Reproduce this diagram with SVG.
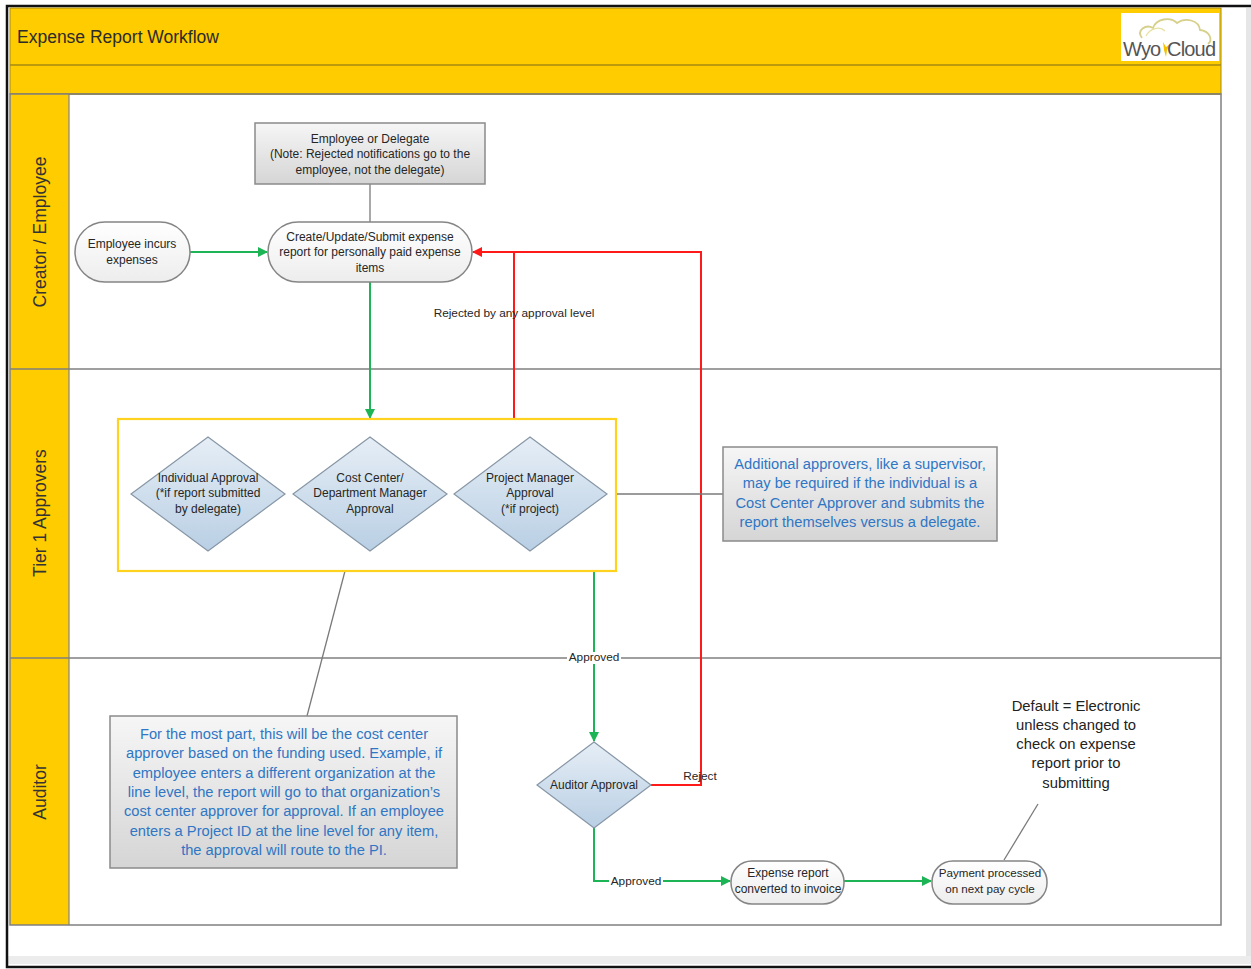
<svg xmlns="http://www.w3.org/2000/svg" width="1251" height="969" viewBox="0 0 1251 969">
<defs>
<linearGradient id="gGray" x1="0" y1="0" x2="0" y2="1"><stop offset="0" stop-color="#f6f6f6"/><stop offset="1" stop-color="#d5d5d5"/></linearGradient>
<linearGradient id="gBlue" x1="0" y1="0" x2="0" y2="1"><stop offset="0" stop-color="#e6eef6"/><stop offset="1" stop-color="#b9cfe4"/></linearGradient>
<linearGradient id="gTerm" x1="0" y1="0" x2="0" y2="1"><stop offset="0" stop-color="#ffffff"/><stop offset="1" stop-color="#ededed"/></linearGradient>
<marker id="aG" markerWidth="10" markerHeight="10" refX="9" refY="5" orient="auto" markerUnits="userSpaceOnUse"><path d="M0,0 L10,5 L0,10 Z" fill="#1db455"/></marker>
<marker id="aR" markerWidth="10" markerHeight="10" refX="9" refY="5" orient="auto" markerUnits="userSpaceOnUse"><path d="M0,0 L10,5 L0,10 Z" fill="#ff1a1a"/></marker>
<style>
.t{font-family:"Liberation Sans",Arial,sans-serif;fill:#262626;text-anchor:middle}
.s{font-size:12px}
.blue{font-size:14.7px;fill:#2f76c4}
.lane{font-size:17.5px;fill:#333}
.lbl{font-size:11.8px}
.dft{font-size:14.8px;fill:#222}
.note{fill:url(#gGray);stroke:#8a8a8a;stroke-width:1.5}
.dia{fill:url(#gBlue);stroke:#8796a6;stroke-width:1.2}
.term{fill:url(#gTerm);stroke:#858585;stroke-width:1.5}
.g{fill:none;stroke:#1db455;stroke-width:2}
.r{fill:none;stroke:#ff1a1a;stroke-width:2}
.k{fill:none;stroke:#7a7a7a;stroke-width:1.3}
.sep{stroke:#7f7f7f;stroke-width:1.5}
</style>
</defs>
<rect width="1251" height="969" fill="#ffffff"/>
<g id="page">
<rect x="1246" y="8" width="5" height="952" fill="#e6e6e6"/>
<rect x="8" y="956" width="1243" height="8" fill="#ececec"/>
<path d="M1251,6 H7 V967 H1251" fill="none" stroke="#111" stroke-width="2.5"/>
</g>
<g id="header">
<rect x="10" y="8" width="1211" height="86" fill="#ffcc00"/>
<line x1="10" y1="65" x2="1221" y2="65" stroke="#a58a10" stroke-width="1.5"/>
<line x1="10" y1="94" x2="1221" y2="94" stroke="#a58a10" stroke-width="1.5"/>
<rect x="10" y="8" width="1211" height="86" fill="none" stroke="#a58a10" stroke-width="1"/>
<text class="t" x="17" y="43" style="font-size:17.5px;text-anchor:start;fill:#2b2b2b">Expense Report Workflow</text>
</g>
<g id="logo">
<rect x="1121" y="13" width="98" height="48" fill="#ffffff"/>
<path d="M1142,38 C1136,30 1146,24 1153,28 C1156,19 1170,16 1177,23 C1185,17 1199,20 1200,30 C1210,31 1213,40 1208,44" fill="none" stroke="#d6d08a" stroke-width="1.8"/>
<path d="M1146,36 C1150,28 1160,26 1165,31" fill="none" stroke="#e8e0a0" stroke-width="1.2"/>
<text x="1123" y="56" style="font-family:'Liberation Sans',Arial,sans-serif;font-size:20px;fill:#555;letter-spacing:-0.8px">Wyo</text>
<path d="M1163,42 L1166,47 L1170,44 L1167,50 L1166,57 L1164,50 Z" fill="#f2c200"/>
<text x="1167" y="56" style="font-family:'Liberation Sans',Arial,sans-serif;font-size:20px;fill:#555;letter-spacing:-0.8px">Cloud</text>
</g>
<g id="pool">
<rect x="10" y="94" width="59" height="831" fill="#ffcc00"/>
<rect x="10" y="94" width="1211" height="831" fill="none" stroke="#808080" stroke-width="1.5"/>
<line x1="69" y1="94" x2="69" y2="925" stroke="#808080" stroke-width="1.2"/>
<line class="sep" x1="10" y1="369" x2="1221" y2="369"/>
<line class="sep" x1="10" y1="658" x2="1221" y2="658"/>
<text class="t lane" transform="translate(46,232) rotate(-90)">Creator / Employee</text>
<text class="t lane" transform="translate(46,513) rotate(-90)">Tier 1 Approvers</text>
<text class="t lane" transform="translate(46,792) rotate(-90)">Auditor</text>
</g>
<g id="connectors">
<line class="k" x1="370" y1="184" x2="370" y2="222"/>
<line class="g" x1="190" y1="252" x2="267" y2="252" marker-end="url(#aG)"/>
<line class="g" x1="370" y1="282" x2="370" y2="418" marker-end="url(#aG)"/>
<path class="r" d="M651,785 H701 V252 H473" marker-end="url(#aR)"/>
<line class="r" x1="514" y1="419" x2="514" y2="252"/>
<line class="k" x1="616" y1="494" x2="723" y2="494"/>
<line class="k" x1="345" y1="571" x2="307" y2="716"/>
<line class="g" x1="594" y1="571" x2="594" y2="741" marker-end="url(#aG)"/>
<path class="g" d="M594,828 V881 H730" marker-end="url(#aG)"/>
<line class="g" x1="844" y1="881" x2="931" y2="881" marker-end="url(#aG)"/>
<line class="k" x1="1004" y1="860" x2="1038" y2="804"/>
<text class="t lbl" x="514" y="317">Rejected by any approval level</text>
<rect x="567" y="652" width="54" height="12" fill="#ffffff"/>
<text class="t lbl" x="594" y="661">Approved</text>
<text class="t lbl" x="700" y="780">Reject</text>
<rect x="609" y="875" width="54" height="12" fill="#ffffff"/>
<text class="t lbl" x="636" y="885">Approved</text>
</g>
<g id="n-delegate">
<rect class="note" x="255" y="123" width="230" height="61"/>
<text class="t s" x="370" y="143">Employee or Delegate</text>
<text class="t s" x="370" y="158">(Note: Rejected notifications go to the</text>
<text class="t s" x="370" y="174">employee, not the delegate)</text>
</g>
<g id="n-incurs">
<rect class="term" x="75" y="222" width="115" height="60" rx="30"/>
<text class="t s" x="132" y="248">Employee incurs</text>
<text class="t s" x="132" y="264">expenses</text>
</g>
<g id="n-create">
<rect class="term" x="268" y="222" width="204" height="60" rx="30"/>
<text class="t s" x="370" y="241">Create/Update/Submit expense</text>
<text class="t s" x="370" y="256">report for personally paid expense</text>
<text class="t s" x="370" y="272">items</text>
</g>
<g id="n-tier1">
<rect x="118" y="419" width="498" height="152" fill="#ffffff" stroke="#ffd21f" stroke-width="2.2"/>
</g>
<g id="n-individual">
<path class="dia" d="M208,437 L285,494 L208,551 L131,494 Z"/>
<text class="t s" x="208" y="482">Individual Approval</text>
<text class="t s" x="208" y="497">(*if report submitted</text>
<text class="t s" x="208" y="513">by delegate)</text>
</g>
<g id="n-costcenter">
<path class="dia" d="M370,437 L447,494 L370,551 L293,494 Z"/>
<text class="t s" x="370" y="482">Cost Center/</text>
<text class="t s" x="370" y="497">Department Manager</text>
<text class="t s" x="370" y="513">Approval</text>
</g>
<g id="n-project">
<path class="dia" d="M530,437 L607,494 L530,551 L454,494 Z"/>
<text class="t s" x="530" y="482">Project Manager</text>
<text class="t s" x="530" y="497">Approval</text>
<text class="t s" x="530" y="513">(*if project)</text>
</g>
<g id="n-additional">
<rect class="note" x="723" y="447" width="274" height="94"/>
<text class="t blue" x="860" y="469">Additional approvers, like a supervisor,</text>
<text class="t blue" x="860" y="488">may be required if the individual is a</text>
<text class="t blue" x="860" y="508">Cost Center Approver and submits the</text>
<text class="t blue" x="860" y="527">report themselves versus a delegate.</text>
</g>
<g id="n-mostpart">
<rect class="note" x="110" y="716" width="347" height="152"/>
<text class="t blue" x="284" y="739">For the most part, this will be the cost center</text>
<text class="t blue" x="284" y="758">approver based on the funding used. Example, if</text>
<text class="t blue" x="284" y="778">employee enters a different organization at the</text>
<text class="t blue" x="284" y="797">line level, the report will go to that organization’s</text>
<text class="t blue" x="284" y="816">cost center approver for approval. If an employee</text>
<text class="t blue" x="284" y="836">enters a Project ID at the line level for any item,</text>
<text class="t blue" x="284" y="855">the approval will route to the PI.</text>
</g>
<g id="n-auditor">
<path class="dia" d="M594,742 L651,785 L594,828 L537,785 Z"/>
<text class="t s" x="594" y="789">Auditor Approval</text>
</g>
<g id="n-invoice">
<rect class="term" x="731" y="861" width="113" height="43" rx="21"/>
<text class="t s" x="788" y="877">Expense report</text>
<text class="t s" x="788" y="893">converted to invoice</text>
</g>
<g id="n-payment">
<rect class="term" x="932" y="861" width="115" height="43" rx="21"/>
<text class="t s" x="990" y="877" style="font-size:11.6px">Payment processed</text>
<text class="t s" x="990" y="893" style="font-size:11.6px">on next pay cycle</text>
</g>
<g id="n-default">
<text class="t dft" x="1076" y="711">Default = Electronic</text>
<text class="t dft" x="1076" y="730">unless changed to</text>
<text class="t dft" x="1076" y="749">check on expense</text>
<text class="t dft" x="1076" y="768">report prior to</text>
<text class="t dft" x="1076" y="788">submitting</text>
</g>
</svg>
